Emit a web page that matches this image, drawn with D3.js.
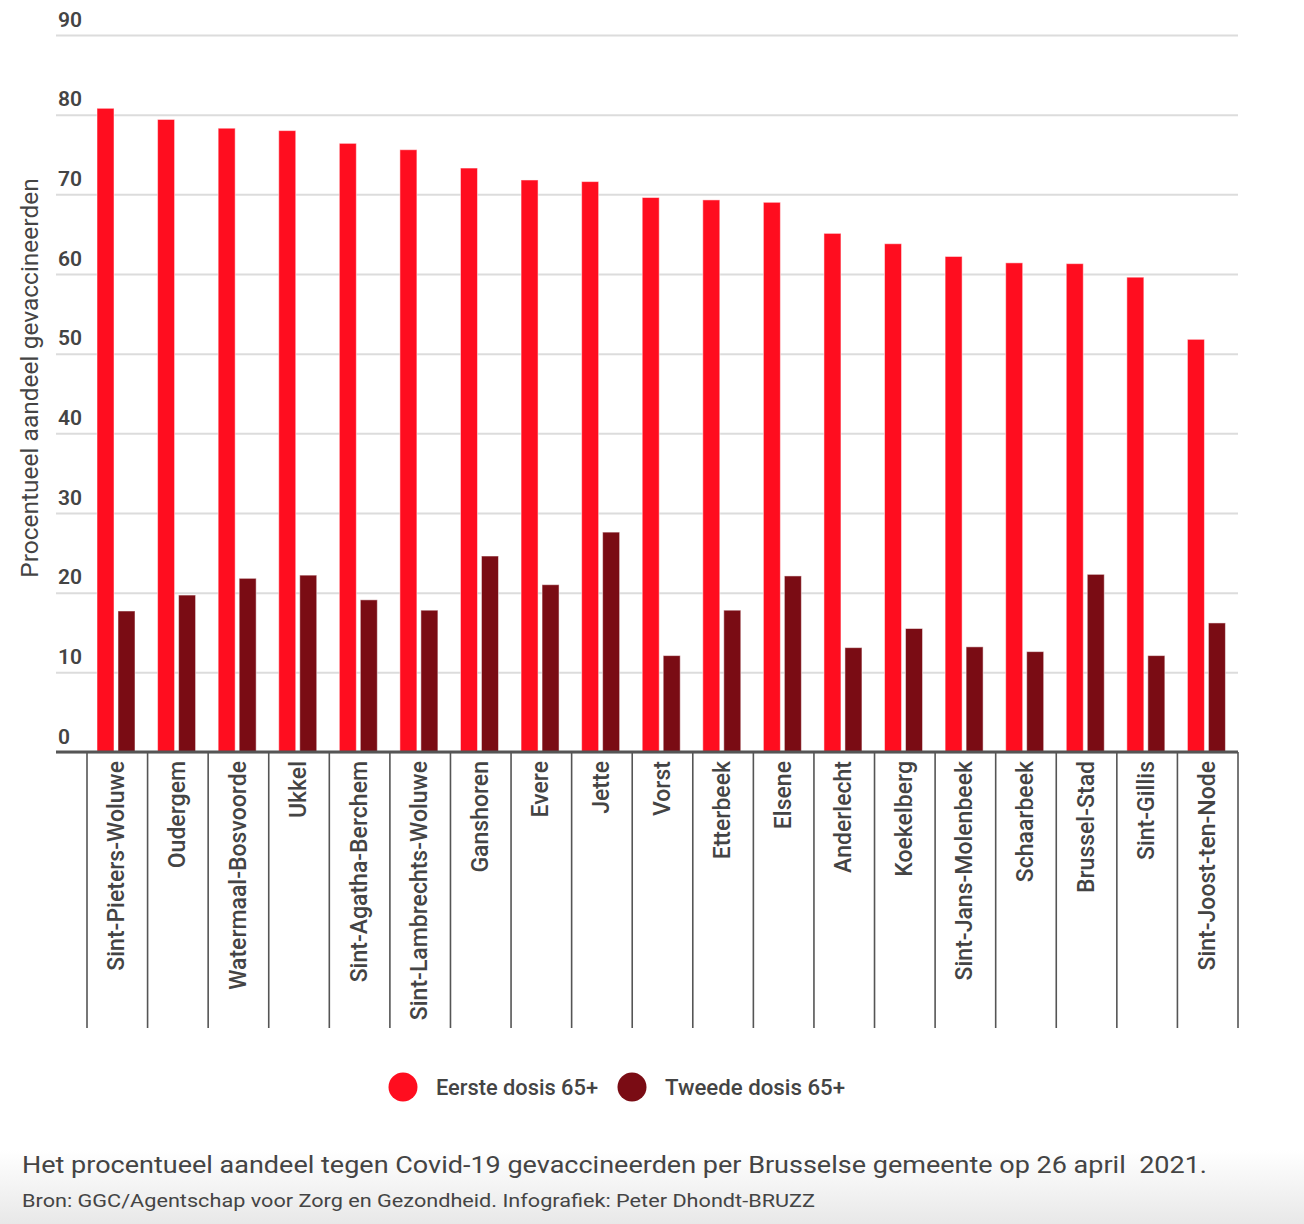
<!DOCTYPE html>
<html><head><meta charset="utf-8">
<script src="https://cdn.jsdelivr.net/npm/d3@7/dist/d3.min.js"></script>
<style>
html,body{margin:0;padding:0;background:#fff;}
svg{display:block;font-family:Roboto,"Noto Sans",sans-serif;}
text{white-space:pre;}
</style></head>
<body>
<svg id="chart" width="1304" height="1224"></svg>
<script>
const categories = ["Sint-Pieters-Woluwe","Oudergem","Watermaal-Bosvoorde","Ukkel","Sint-Agatha-Berchem","Sint-Lambrechts-Woluwe","Ganshoren","Evere","Jette","Vorst","Etterbeek","Elsene","Anderlecht","Koekelberg","Sint-Jans-Molenbeek","Schaarbeek","Brussel-Stad","Sint-Gillis","Sint-Joost-ten-Node"];
const eersteDosis = [80.8,79.4,78.3,78.0,76.4,75.6,73.3,71.8,71.6,69.6,69.3,69.0,65.1,63.8,62.2,61.4,61.3,59.6,51.8];
const tweedeDosis = [17.7,19.7,21.8,22.2,19.1,17.8,24.6,21.0,27.6,12.1,17.8,22.1,13.1,15.5,13.2,12.6,22.3,12.1,16.2];
const yTicks = [0,10,20,30,40,50,60,70,80,90];
const seriesNames = ["Eerste dosis 65+","Tweede dosis 65+"];
const seriesColors = ["#ff0d1f","#7a0c14"];
const yTitle = "Procentueel aandeel gevaccineerden";
const caption = "Het procentueel aandeel tegen Covid-19 gevaccineerden per Brusselse gemeente op 26 april  2021.";
const source = "Bron: GGC/Agentschap voor Zorg en Gezondheid. Infografiek: Peter Dhondt-BRUZZ";

const svg = d3.select("#chart");
const textColor = "#444";

// background gradient at bottom
const defs = svg.append("defs");
const grad = defs.append("linearGradient").attr("id","bg").attr("x1",0).attr("x2",0).attr("y1",0).attr("y2",1);
grad.append("stop").attr("offset","0%").attr("stop-color","#ffffff");
grad.append("stop").attr("offset","100%").attr("stop-color","#e8e8e8");
svg.append("rect").attr("x",0).attr("y",1150).attr("width",1304).attr("height",74).attr("fill","url(#bg)");

const plotLeft = 56, plotRight = 1238, bandLeft = 87;
const y = d3.scaleLinear().domain([0,90]).range([752,35]);
const x = d3.scaleBand().domain(categories).range([bandLeft, plotRight]).paddingInner(0).paddingOuter(0);
const xSub = d3.scaleBand().domain([0,1]).range([10, 48]).paddingInner(0.19);

// y grid + labels
const yAxis = d3.axisRight(y).tickValues(yTicks).tickSize(plotRight - plotLeft).tickFormat(d3.format("d"));
const gy = svg.append("g").attr("transform",`translate(${plotLeft},0)`).call(yAxis);
gy.select(".domain").remove();
gy.selectAll(".tick line").attr("stroke","#dcdcdc").attr("stroke-width",2);
gy.selectAll(".tick text").attr("x",2).attr("dy",-9).attr("text-anchor","start")
  .attr("font-size",21).attr("font-weight",600).attr("fill",textColor).attr("font-family","Roboto");

// bars
const series = [eersteDosis, tweedeDosis];
series.forEach((vals, si) => {
  svg.append("g").selectAll("rect").data(categories).join("rect")
    .attr("x", (d) => x(d) + xSub(si))
    .attr("width", xSub.bandwidth())
    .attr("y", (d,i) => y(vals[i]))
    .attr("height", (d,i) => y(0) - y(vals[i]))
    .attr("fill", seriesColors[si])
    .attr("stroke", "#ffffff").attr("stroke-opacity",0.5).attr("stroke-width",1);
});

// x axis
const xAxis = d3.axisBottom(x).tickSize(276).tickSizeOuter(0);
const gx = svg.append("g").attr("transform",`translate(0,${y(0)})`).call(xAxis);
gx.select(".domain").remove();
gx.selectAll(".tick line").attr("transform",`translate(${-x.bandwidth()/2},0)`).attr("stroke","#555").attr("stroke-width",1.6);
gx.selectAll(".tick text")
  .attr("transform","rotate(-90)")
  .attr("x",-9).attr("y",-1).attr("dy","0.35em")
  .attr("text-anchor","end")
  .attr("font-size",23).attr("font-weight",500).attr("fill",textColor).attr("font-family","Roboto");
// last boundary line
svg.append("line").attr("x1",plotRight).attr("x2",plotRight).attr("y1",y(0)).attr("y2",y(0)+276).attr("stroke","#555").attr("stroke-width",1.6);
// baseline
svg.append("line").attr("x1",plotLeft).attr("x2",plotRight).attr("y1",y(0)).attr("y2",y(0)).attr("stroke","#555").attr("stroke-width",3);

// y title
svg.append("text").attr("transform",`translate(38,378) rotate(-90)`)
  .attr("text-anchor","middle").attr("font-size",24.5).attr("fill",textColor).text(yTitle);

// legend
const legendX = [403, 632];
seriesNames.forEach((n,i) => {
  svg.append("circle").attr("cx",legendX[i]).attr("cy",1087).attr("r",14.5).attr("fill",seriesColors[i]);
  svg.append("text").attr("x",legendX[i]+33).attr("y",1087).attr("dy","0.35em")
    .attr("font-size",22).attr("font-weight",500).attr("fill",textColor)
    .attr("textLength", i===0 ? 162 : 180).attr("lengthAdjust","spacingAndGlyphs").text(n);
});

// caption
svg.append("text").attr("x",22).attr("y",1173).attr("font-size",23).attr("fill",textColor)
  .attr("textLength",1185).attr("lengthAdjust","spacingAndGlyphs").text(caption);
svg.append("text").attr("x",22).attr("y",1207).attr("font-size",19).attr("fill",textColor)
  .attr("textLength",793).attr("lengthAdjust","spacingAndGlyphs").text(source);
</script>
</body></html>
